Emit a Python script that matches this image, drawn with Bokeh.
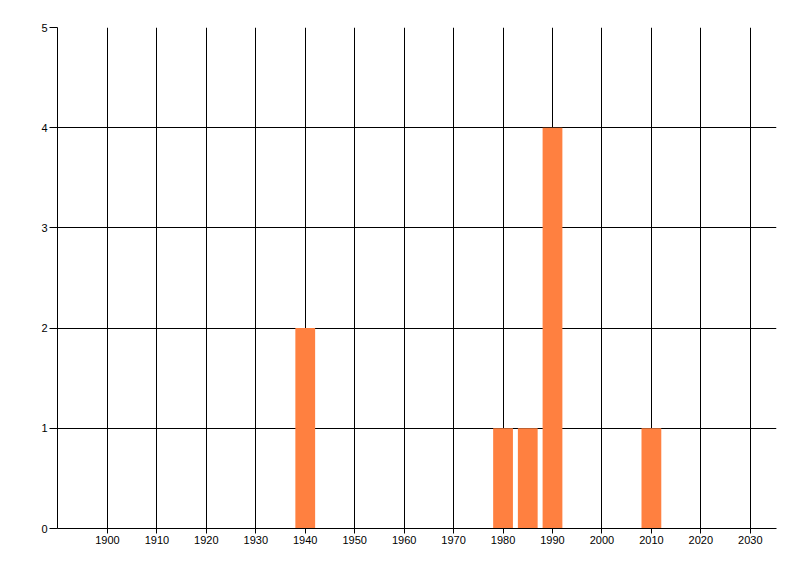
from bokeh.plotting import figure
from bokeh.models import ColumnDataSource, FixedTicker, Range1d
from bokeh.embed import file_html
from bokeh.resources import INLINE

years = [1940, 1980, 1985, 1990, 2010]
counts = [2, 1, 1, 4, 1]
x_ticks = list(range(1900, 2031, 10))
y_ticks = [0, 1, 2, 3, 4, 5]

src = ColumnDataSource(dict(x=years, top=counts))

p = figure(width=784, height=560, output_backend="svg", toolbar_location=None,
           x_range=Range1d(1889.9, 2035.3), y_range=Range1d(0, 5),
           min_border_left=57, min_border_right=8, min_border_top=27, min_border_bottom=32)
p.outline_line_color = None
p.background_fill_color = "white"
p.border_fill_color = "white"

p.vbar(x="x", top="top", bottom=0, width=4, source=src,
       fill_color="#ff8040", line_color=None)

for ax in (p.xaxis[0], p.yaxis[0]):
    ax.axis_line_color = "black"
    ax.major_tick_line_color = "black"
    ax.minor_tick_line_color = None
    ax.major_label_text_font = "Liberation Sans"
    ax.major_label_text_font_size = "11px"
    ax.major_label_text_color = "black"
    ax.major_tick_in = 0

p.xaxis.ticker = FixedTicker(ticks=x_ticks)
p.yaxis.ticker = FixedTicker(ticks=y_ticks)
p.xaxis.major_tick_out = 5
p.yaxis.major_tick_out = 8
p.xaxis.major_label_standoff = 2
p.yaxis.major_label_standoff = 2

for g in (p.xgrid[0], p.ygrid[0]):
    g.grid_line_color = "black"
    g.grid_line_alpha = 1.0
    g.grid_line_width = 1
    g.level = "underlay"

open("out.html", "w").write(file_html(p, INLINE))
